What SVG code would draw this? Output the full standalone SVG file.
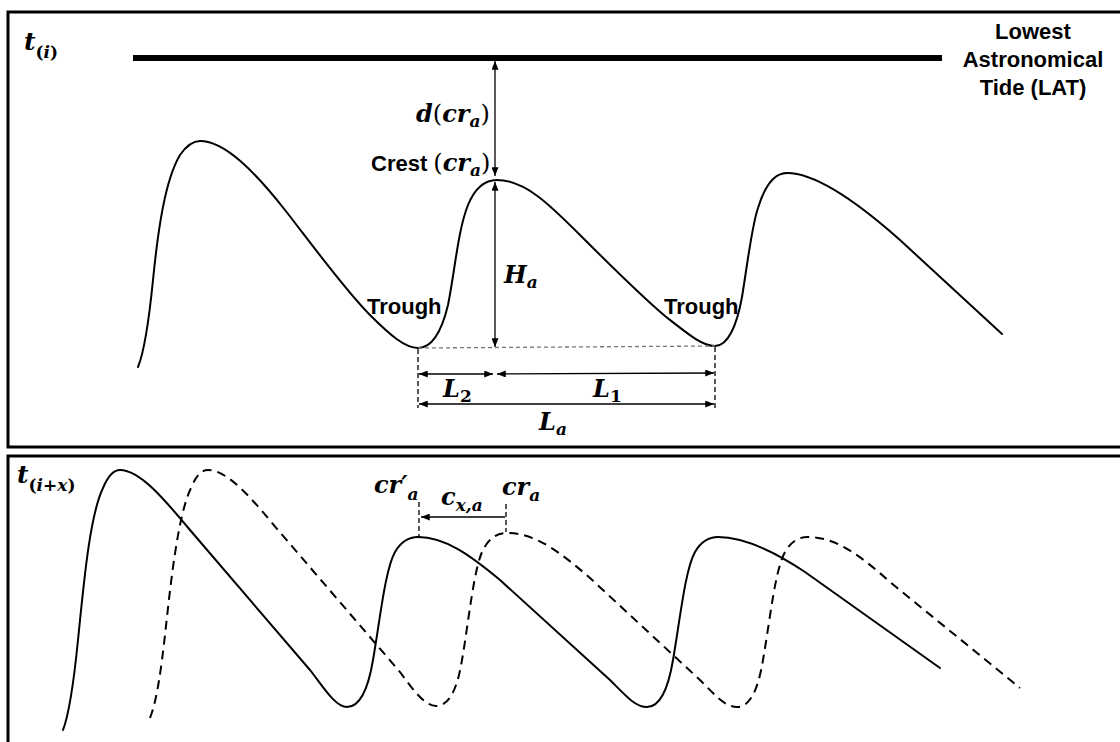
<svg xmlns="http://www.w3.org/2000/svg" width="1120" height="742" viewBox="0 0 1120 742">
<style>
.panel{fill:none;stroke:#000;stroke-width:3}
.wave{fill:none;stroke:#000;stroke-width:2;stroke-linecap:round;stroke-linejoin:round}
.dwave{fill:none;stroke:#000;stroke-width:2;stroke-dasharray:9 6}
.arr{fill:none;stroke:#000;stroke-width:1.3;marker-start:url(#ah);marker-end:url(#ah)}
.arr1{fill:none;stroke:#000;stroke-width:1.3;marker-end:url(#ah)}
.vd{fill:none;stroke:#000;stroke-width:1.3;stroke-dasharray:5 3}
.gd{fill:none;stroke:#777;stroke-width:1.3;stroke-dasharray:4 3}
.lbl{font-family:"Liberation Sans",Arial,sans-serif;font-weight:bold;fill:#000}
.m{font-family:"DejaVu Serif","Liberation Serif",serif;font-weight:bold;font-style:italic;fill:#000}
.up{font-style:normal;font-weight:normal}
.ub{font-style:normal;font-weight:bold}
</style>
<defs>
<marker id="ah" viewBox="0 0 10 8" refX="10" refY="4" markerWidth="9" markerHeight="7" markerUnits="userSpaceOnUse" orient="auto-start-reverse">
<path d="M0,0 L10,4 L0,8 Z" fill="#000"/>
</marker>
</defs>
<rect width="1120" height="742" fill="#fff"/>

<g id="panel-top">
<rect class="panel" x="8" y="12" width="1125" height="435"/>
<text class="m" x="24" y="50" font-size="25">t<tspan font-size="17" dy="8"><tspan class="ub">(</tspan>i<tspan class="ub">)</tspan></tspan></text>
</g>
<g id="panel-bottom">
<rect class="panel" x="8" y="456" width="1125" height="300"/>
<text class="m" x="17" y="483" font-size="25">t<tspan font-size="17" dy="8"><tspan class="ub">(</tspan>i+x<tspan class="ub">)</tspan></tspan></text>
</g>

<g id="lat">
<line x1="133" y1="58" x2="942" y2="58" stroke="#000" stroke-width="6"/>
<text class="lbl" font-size="22" text-anchor="middle"><tspan x="1033" y="39">Lowest</tspan><tspan x="1033" y="67">Astronomical</tspan><tspan x="1033" y="95">Tide (LAT)</tspan></text>
</g>

<g id="wave-top">
<path class="wave" d="M138,367 C145,350 149,320 153,280 C158,230 165,180 180,155 C187,145 193,141 200,141 C225,141 255,172 285,210 C310,242 345,290 370,315 C390,335 405,348 418,348 C432,348 442,330 448,305 C455,270 458,230 468,205 C475,188 485,180 497,180 C525,180 550,205 580,235 C610,265 640,295 665,316 C688,334 702,346 715,346 C728,346 737,325 742,297 C748,260 752,225 758,208 C765,185 775,173 787,173 C815,173 855,200 900,240 L1002,334"/>
</g>

<g id="wave-bottom-solid">
<path class="wave" d="M63,730 C70,712 74,680 78,640 C84,580 90,515 103,488 C108,476 113,470 120,470 C140,470 165,500 190,530 L310,670 C322,685 335,707 347,707 C360,707 368,690 373,660 C380,620 385,570 395,552 C402,540 410,537 418,537 C445,537 470,555 500,580 L610,680 C625,695 635,707 647,707 C660,707 668,690 673,660 C680,620 685,570 695,552 C702,540 710,537 718,537 C745,537 775,552 805,572 L940,668"/>
</g>
<g id="wave-bottom-dashed">
<path class="dwave" d="M150,718 C157,700 161,670 165,635 C171,580 178,515 191,488 C196,476 201,470 208,470 C228,470 253,500 278,530 L400,672 C412,688 424,706 436,706 C449,706 457,690 462,660 C469,620 474,565 484,548 C491,536 499,533 508,533 C535,533 560,552 590,578 L700,680 C715,695 725,707 737,707 C750,707 758,690 763,660 C770,620 775,570 785,552 C792,540 800,537 808,537 C835,537 860,555 890,582 L1020,688"/>
</g>

<g id="connectors">
<line class="arr" x1="495" y1="61" x2="495" y2="176"/>
<line class="arr" x1="495" y1="182" x2="495" y2="347"/>
<line class="gd" x1="418" y1="348" x2="715" y2="346"/>
<line class="vd" x1="418" y1="349" x2="418" y2="408"/>
<line class="vd" x1="715" y1="347" x2="715" y2="408"/>
<line class="arr" x1="419" y1="374" x2="493" y2="374"/>
<line class="arr" x1="497" y1="374" x2="714" y2="373"/>
<line class="arr" x1="419" y1="404" x2="714" y2="404"/>
<line class="vd" x1="419" y1="502" x2="419" y2="537"/>
<line class="vd" x1="506" y1="504" x2="506" y2="532"/>
<line class="arr1" x1="505" y1="517" x2="421" y2="517"/>
</g>

<g id="labels">
<text class="m" x="416" y="122" font-size="24">d<tspan class="up">(</tspan>cr<tspan font-size="17" dy="5">a</tspan><tspan class="up" dy="-5">)</tspan></text>
<text x="371" y="171"><tspan class="lbl" font-size="22">Crest </tspan><tspan class="m up" font-size="24">(</tspan><tspan class="m" font-size="24">cr</tspan><tspan class="m" font-size="17" dy="5">a</tspan><tspan class="m up" font-size="24" dy="-5">)</tspan></text>
<text class="m" x="504" y="283" font-size="24">H<tspan font-size="17" dy="5">a</tspan></text>
<text class="lbl" x="367" y="314" font-size="22">Trough</text>
<text class="lbl" x="664" y="314" font-size="22">Trough</text>
<text class="m" x="443" y="397" font-size="24">L<tspan font-size="17" dy="5" class="ub">2</tspan></text>
<text class="m" x="593" y="397" font-size="24">L<tspan font-size="17" dy="5" class="ub">1</tspan></text>
<text class="m" x="539" y="430" font-size="24">L<tspan font-size="17" dy="5">a</tspan></text>
<text class="m" x="374" y="493" font-size="24">cr′<tspan font-size="17" dy="7">a</tspan></text>
<text class="m" x="441" y="505" font-size="24">c<tspan font-size="17" dy="6">x,a</tspan></text>
<text class="m" x="502" y="495" font-size="24">cr<tspan font-size="17" dy="6">a</tspan></text>
</g>
</svg>
